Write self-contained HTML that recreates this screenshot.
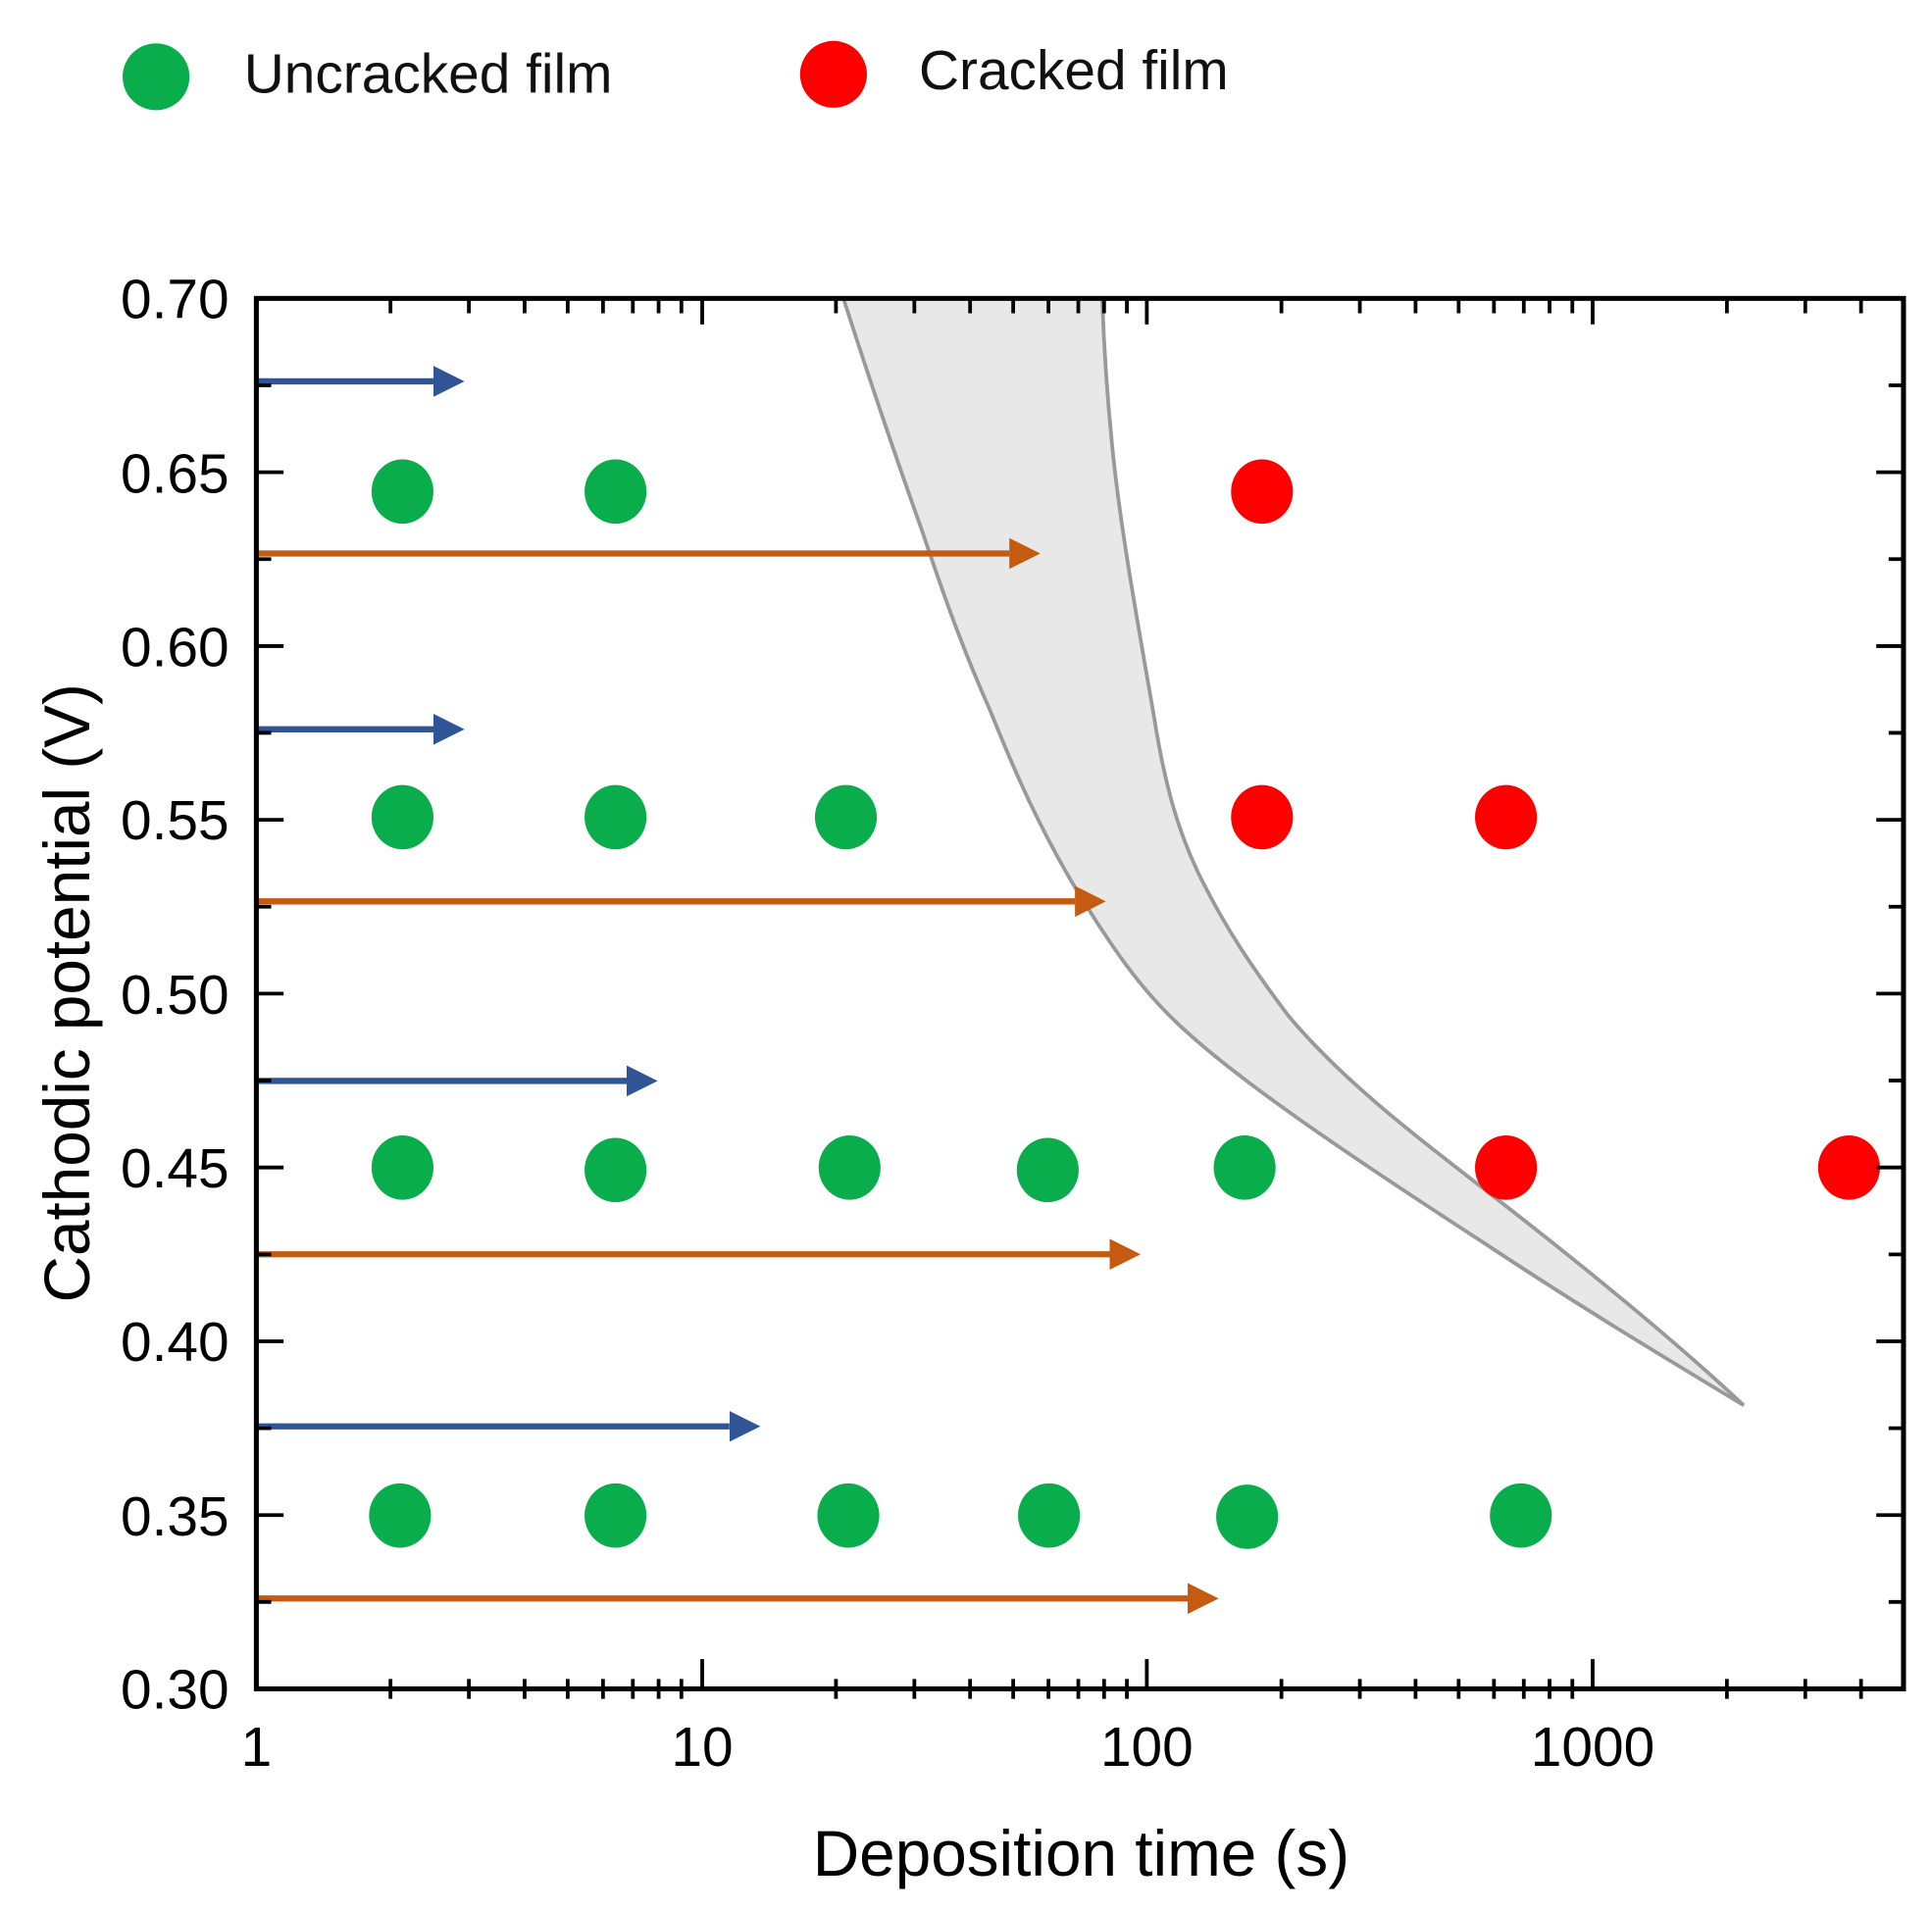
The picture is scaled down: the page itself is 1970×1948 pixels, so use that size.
<!DOCTYPE html>
<html><head><meta charset="utf-8"><style>html,body{margin:0;padding:0;background:#fff}svg{display:block}</style></head>
<body>
<svg width="1970" height="1948" viewBox="0 0 1560 1542.6" preserveAspectRatio="none" xmlns="http://www.w3.org/2000/svg" font-family="Liberation Sans, sans-serif">
<defs>
<marker id="ab" viewBox="0 0 10 10" refX="0" refY="5" markerWidth="5" markerHeight="5" markerUnits="strokeWidth" orient="auto"><path d="M0,0L10,5L0,10z" fill="#2f5597"/></marker>
<marker id="ao" viewBox="0 0 10 10" refX="0" refY="5" markerWidth="5" markerHeight="5" markerUnits="strokeWidth" orient="auto"><path d="M0,0L10,5L0,10z" fill="#c55a11"/></marker>
</defs>
<!-- legend -->
<circle cx="126" cy="62" r="27" fill="#0aad4b"/>
<text x="197" y="75" font-size="45" fill="#111">Uncracked film</text>
<circle cx="673" cy="60" r="27" fill="#ff0000"/>
<text x="742" y="72" font-size="45" fill="#111">Cracked film</text>
<!-- gray region -->
<path d="M681,241 C700,300 720,360 745,430 C765,490 780,530 800,575 C820,625 840,670 870,720 C895,760 920,800 960,835 C1010,880 1100,940 1200,1005 C1280,1058 1350,1100 1408,1135 C1360,1090 1300,1040 1230,985 C1160,930 1090,880 1040,820 C1010,780 990,750 970,710 C950,670 940,630 932,580 C920,510 905,430 898,360 C893,310 891,270 890,241 Z" fill="#e8e8e8" stroke="#999" stroke-width="3"/>
<!-- arrows -->
<g stroke-width="5" fill="none">
<line x1="207" y1="308" x2="350" y2="308" stroke="#2f5597" marker-end="url(#ab)"/>
<line x1="207" y1="447" x2="815" y2="447" stroke="#c55a11" marker-end="url(#ao)"/>
<line x1="207" y1="589" x2="350" y2="589" stroke="#2f5597" marker-end="url(#ab)"/>
<line x1="207" y1="728" x2="868" y2="728" stroke="#c55a11" marker-end="url(#ao)"/>
<line x1="207" y1="873" x2="506" y2="873" stroke="#2f5597" marker-end="url(#ab)"/>
<line x1="207" y1="1013" x2="896" y2="1013" stroke="#c55a11" marker-end="url(#ao)"/>
<line x1="207" y1="1152" x2="589" y2="1152" stroke="#2f5597" marker-end="url(#ab)"/>
<line x1="207" y1="1291" x2="959" y2="1291" stroke="#c55a11" marker-end="url(#ao)"/>
</g>
<!-- points -->
<g fill="#0aad4b">
<ellipse cx="325" cy="397" rx="25" ry="26"/><ellipse cx="497" cy="397" rx="25" ry="26"/>
<ellipse cx="325" cy="660" rx="25" ry="26"/><ellipse cx="497" cy="660" rx="25" ry="26"/><ellipse cx="683" cy="660" rx="25" ry="26"/>
<ellipse cx="325" cy="943" rx="25" ry="26"/><ellipse cx="497" cy="945" rx="25" ry="26"/><ellipse cx="686" cy="943" rx="25" ry="26"/><ellipse cx="846" cy="945" rx="25" ry="26"/><ellipse cx="1005" cy="943" rx="25" ry="26"/>
<ellipse cx="323" cy="1224" rx="25" ry="26"/><ellipse cx="497" cy="1224" rx="25" ry="26"/><ellipse cx="685" cy="1224" rx="25" ry="26"/><ellipse cx="847" cy="1224" rx="25" ry="26"/><ellipse cx="1007" cy="1225" rx="25" ry="26"/><ellipse cx="1228" cy="1224" rx="25" ry="26"/>
</g>
<g fill="#ff0000">
<ellipse cx="1019" cy="397" rx="25" ry="26"/>
<ellipse cx="1019" cy="660" rx="25" ry="26"/><ellipse cx="1216" cy="660" rx="25" ry="26"/>
<ellipse cx="1216" cy="943" rx="25" ry="26"/><ellipse cx="1493" cy="943" rx="25" ry="26"/>
</g>
<!-- axes -->
<rect x="207" y="241" width="1330" height="1123" fill="none" stroke="#000" stroke-width="4"/>
<g stroke="#000" stroke-width="3">
<path d="M567,1364V1340M926,1364V1340M1286,1364V1340M567,241V262M926,241V262M1286,241V262"/>
<path d="M315.3,1356v16M378.6,1356v16M423.6,1356v16M458.4,1356v16M486.9,1356v16M511,1356v16M531.8,1356v16M550.2,1356v16M675,1356v16M738.3,1356v16M783.3,1356v16M818.1,1356v16M846.6,1356v16M870.7,1356v16M891.5,1356v16M909.9,1356v16M1034.7,1356v16M1098,1356v16M1143,1356v16M1177.8,1356v16M1206.3,1356v16M1230.4,1356v16M1251.2,1356v16M1269.6,1356v16M1394.4,1356v16M1457.7,1356v16M1502.7,1356v16"/>
<path d="M315.3,241v12M378.6,241v12M423.6,241v12M458.4,241v12M486.9,241v12M511,241v12M531.8,241v12M550.2,241v12M675,241v12M738.3,241v12M783.3,241v12M818.1,241v12M846.6,241v12M870.7,241v12M891.5,241v12M909.9,241v12M1034.7,241v12M1098,241v12M1143,241v12M1177.8,241v12M1206.3,241v12M1230.4,241v12M1251.2,241v12M1269.6,241v12M1394.4,241v12M1457.7,241v12M1502.7,241v12"/>
<path d="M207,381.4h22M207,521.8h22M207,662.1h22M207,802.5h22M207,942.9h22M207,1083.3h22M207,1223.7h22M207,311.2h12M207,451.6h12M207,591.9h12M207,732.3h12M207,872.7h12M207,1013.1h12M207,1153.5h12M207,1293.8h12"/>
<path d="M1537,381.4h-22M1537,521.8h-22M1537,662.1h-22M1537,802.5h-22M1537,942.9h-22M1537,1083.3h-22M1537,1223.7h-22M1537,311.2h-12M1537,451.6h-12M1537,591.9h-12M1537,732.3h-12M1537,872.7h-12M1537,1013.1h-12M1537,1153.5h-12M1537,1293.8h-12"/>
</g>
<g font-size="45" fill="#000" text-anchor="middle">
<text x="207" y="1426">1</text><text x="567" y="1426">10</text><text x="926" y="1426">100</text><text x="1286" y="1426">1000</text>
</g>
<g font-size="45" fill="#000" text-anchor="end">
<text x="185" y="257">0.70</text><text x="185" y="398">0.65</text><text x="185" y="538">0.60</text><text x="185" y="678">0.55</text>
<text x="185" y="819">0.50</text><text x="185" y="959">0.45</text><text x="185" y="1099">0.40</text><text x="185" y="1240">0.35</text><text x="185" y="1380">0.30</text>
</g>
<text x="873" y="1515" font-size="52" text-anchor="middle" fill="#000">Deposition time (s)</text>
<text transform="translate(72,802) rotate(-90)" font-size="52" text-anchor="middle" fill="#000">Cathodic potential (V)</text>
</svg>
</body></html>
